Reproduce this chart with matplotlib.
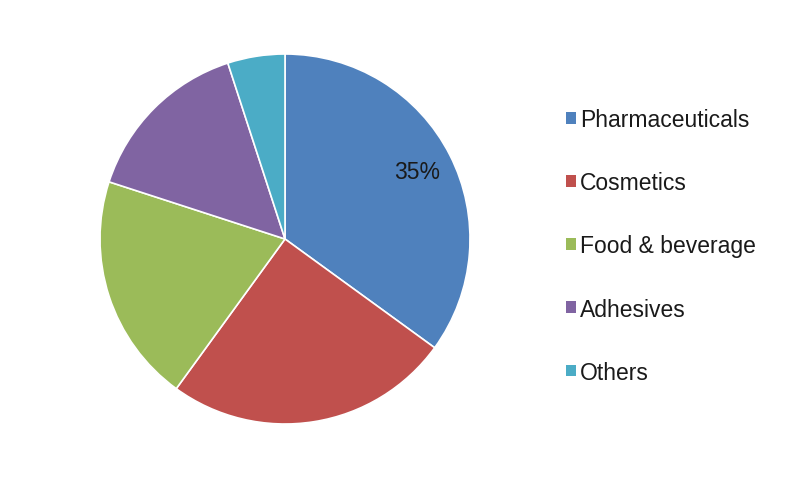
import matplotlib.pyplot as plt
from matplotlib.patches import Patch

plt.rcParams['font.family'] = ['Liberation Sans', 'DejaVu Sans']

labels = ['Pharmaceuticals', 'Cosmetics', 'Food & beverage', 'Adhesives', 'Others']
shares = [35, 25, 20, 15, 5]
colors = ['#4F81BD', '#C0504D', '#9BBB59', '#8064A2', '#4BACC6']

fig = plt.figure(figsize=(8, 4.81), dpi=100)
# pie centre at about (285, 240) px, radius 185 px
ax = fig.add_axes([100/800, 56/481, 370/800, 370/481])

wedges, texts, autotexts = ax.pie(
    shares, colors=colors, startangle=90, counterclock=False,
    radius=1, autopct='%1.0f%%', pctdistance=0.8,
    wedgeprops=dict(edgecolor='white', linewidth=1.2),
    textprops=dict(fontsize=16.5, color='#1a1a1a'))
# only the first slice carries a label in the original
for t in autotexts[1:]:
    t.set_visible(False)
ax.set_xlim(-1, 1)
ax.set_ylim(-1, 1)
ax.set_aspect('equal')

handles = [Patch(facecolor=c, edgecolor='none') for c in colors]
fig.legend(handles, labels, loc='center left',
           bbox_to_anchor=(566/800, (481-247)/481),
           frameon=False, fontsize=16.5, borderpad=0, borderaxespad=0,
           handlelength=0.42, handleheight=0.42, handletextpad=0.2,
           labelspacing=1.75, labelcolor='#1a1a1a')

fig.savefig('out.png', dpi=100)
